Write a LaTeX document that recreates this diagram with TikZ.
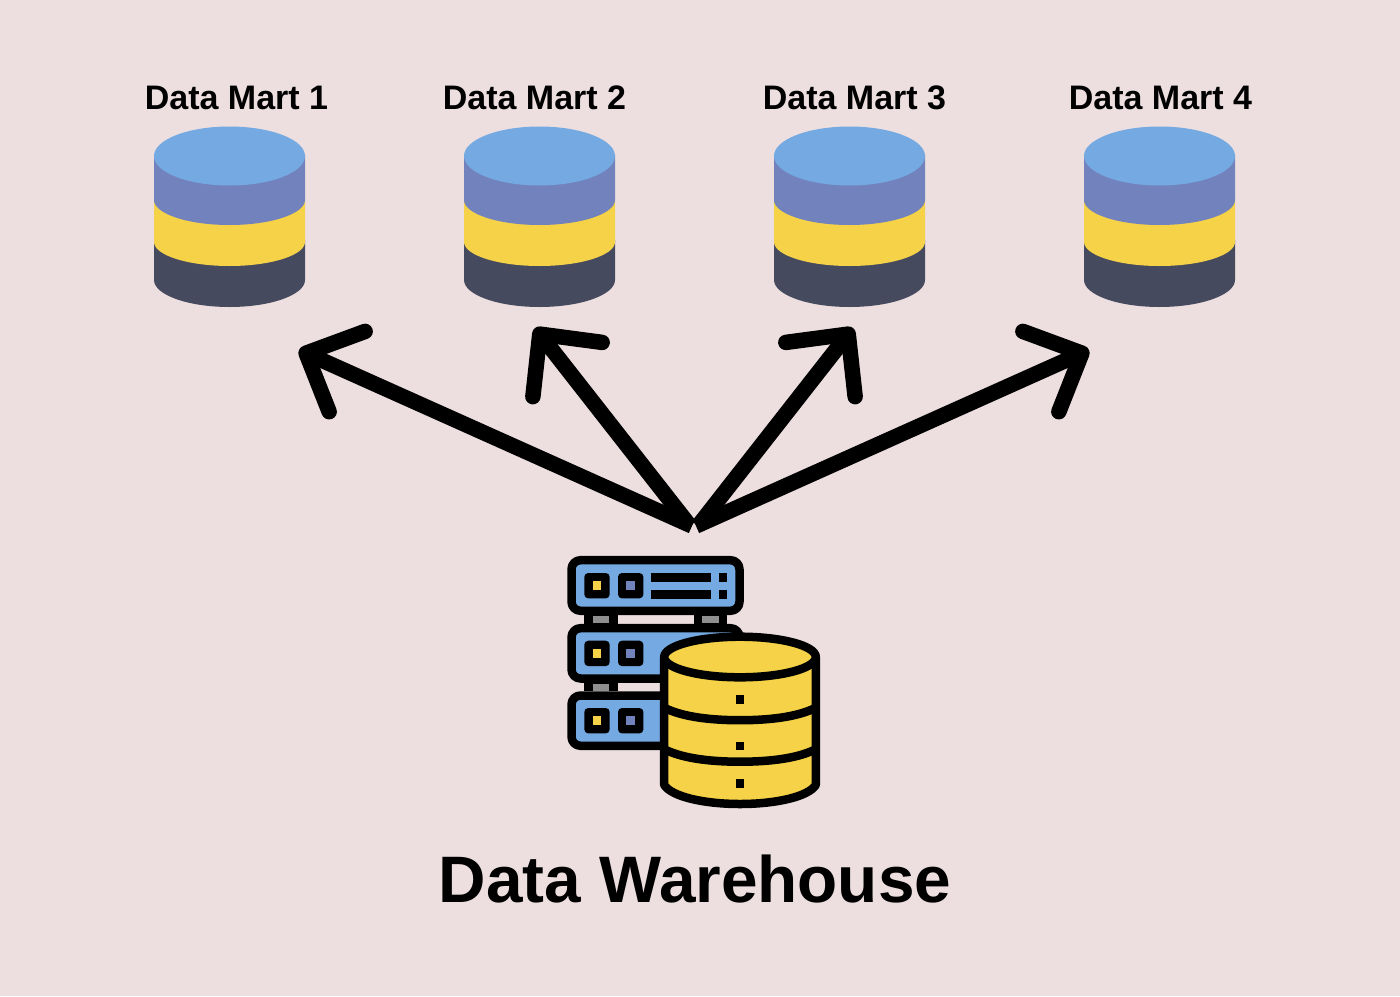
\documentclass[tikz,border=0pt]{standalone}
\usepackage{fontspec}
\setmainfont{Liberation Sans}
\usetikzlibrary{arrows.meta}
\definecolor{bgc}{HTML}{EDDFE0}
\definecolor{blu}{HTML}{74A9E2}
\definecolor{pur}{HTML}{7282BD}
\definecolor{yel}{HTML}{F5D247}
\definecolor{drk}{HTML}{464A5E}
\definecolor{gry}{HTML}{8F8F8F}
\tikzset{
  flow/.style={line width=15.5pt,black,-{Straight Barb[length=45pt,width=88pt,round]}},
  mart/.style={font=\bfseries\fontsize{34}{36}\selectfont,text=black,inner sep=0pt,anchor=center},
  title/.style={font=\bfseries\fontsize{65.7}{70}\selectfont,text=black,inner sep=0pt,anchor=center},
  ink/.style={draw=black,line width=8.5pt,line join=round},
  blk/.style={fill=black,rounded corners=4pt},
}
% cylinder of a data mart
\newcommand{\martband}[4]{% colour, top y, side y, bottom y
  \fill[#1] (-75.5,#2) -- (-75.5,#3) .. controls (-75.5,#3+0.55*#4-0.55*#3) and (-41.5,#4) .. (0,#4) .. controls (41.5,#4) and (75.5,#3+0.55*#4-0.55*#3) .. (75.5,#3) -- (75.5,#2) -- cycle;
}
\newcommand{\martcyl}[1]{%
  \begin{scope}[shift={(#1,0)}]
    \martband{drk}{240}{280}{307}
    \martband{yel}{198}{242}{266}
    \martband{pur}{155}{200}{225}
    \fill[blu] (0,156) ellipse [x radius=75.5, y radius=29.5];
  \end{scope}}
% one rack of the server
\newcommand{\rackunit}[3]{% top of rack, bottom of rack, top of the squares
  \draw[ink,fill=blu,rounded corners=9pt] (571.5,#1+4.2) rectangle (739.5,#2-4.2);
  \fill[blk] (584.3,#3) rectangle ++(25.4,25.4);
  \fill[blk] (618,#3) rectangle ++(25.4,25.4);
  \fill[yel] (592.7,#3+8.4) rectangle ++(8.4,8.4);
  \fill[pur] (626.4,#3+8.4) rectangle ++(8.6,8.4);
}
\newcommand{\rackpost}[3]{% left, top, bottom
  \fill[black] (#1,#2) rectangle ++(33.6,#3-#2);
  \fill[gry] (#1+8.4,#2+.8) rectangle ++(16.7,#3-#2-1.6);
}
\newcommand{\dwarc}[1]{%
  \draw[black,line width=8.5pt] (664.2,#1) .. controls (680,#1+8) and (705,#1+12.5) .. (740,#1+12.5) .. controls (775,#1+12.5) and (800,#1+8) .. (815.8,#1);
}
\begin{document}
\begin{tikzpicture}[x=1pt,y=-1pt]
  \useasboundingbox (0,0) rectangle (1400,996);
  \fill[bgc] (0,0) rectangle (1400,996);

  \martcyl{229.5}\martcyl{539.5}\martcyl{849.5}\martcyl{1159.5}

  \node[mart] (m1) at (236.5,98) {Data Mart 1};
  \node[mart] (m2) at (534.5,98) {Data Mart 2};
  \node[mart] (m3) at (854.5,98) {Data Mart 3};
  \node[mart] (m4) at (1160.5,98) {Data Mart 4};

  \coordinate (tail1) at (692,526);
  \coordinate (tail2) at (690,526);
  \coordinate (tail3) at (698,526);
  \coordinate (tail4) at (696,526);
  \coordinate (tip1) at (299,350);
  \coordinate (tip2) at (535,328);
  \coordinate (tip3) at (853,328);
  \coordinate (tip4) at (1089,350);
  \draw[flow] (tail1) -- (tip1);
  \draw[flow] (tail2) -- (tip2);
  \draw[flow] (tail3) -- (tip3);
  \draw[flow] (tail4) -- (tip4);

  % server rack
  \rackpost{584.3}{615}{624}
  \rackpost{693.7}{615}{624}
  \rackpost{584.3}{682.7}{691.3}
  \rackunit{556}{615}{573}
  \rackunit{624}{682.7}{640.7}
  \rackunit{691.3}{750}{708}
  \fill[black] (651.3,573.3) rectangle (710.7,581.7);
  \fill[black] (651.3,590) rectangle (710.7,598.7);
  \fill[black] (719,573.3) rectangle (727.3,581.7);
  \fill[black] (719,590) rectangle (727.3,598.7);

  % database
  \draw[ink,fill=yel] (664.2,657) -- (664.2,785) .. controls (672,797) and (705,804) .. (740,804) .. controls (775,804) and (808,797) .. (815.8,785) -- (815.8,657) -- cycle;
  \dwarc{707.7}
  \dwarc{749.2}
  \draw[ink,fill=yel] (740,657) ellipse [x radius=75.8, y radius=20.3];
  \fill[black] (736,695) rectangle (744,703.7);
  \fill[black] (736,741.7) rectangle (744,750);
  \fill[black] (736,779.3) rectangle (744,788);

  \node[title] (dw) at (695,879) {Data Warehouse};
\end{tikzpicture}
\end{document}
